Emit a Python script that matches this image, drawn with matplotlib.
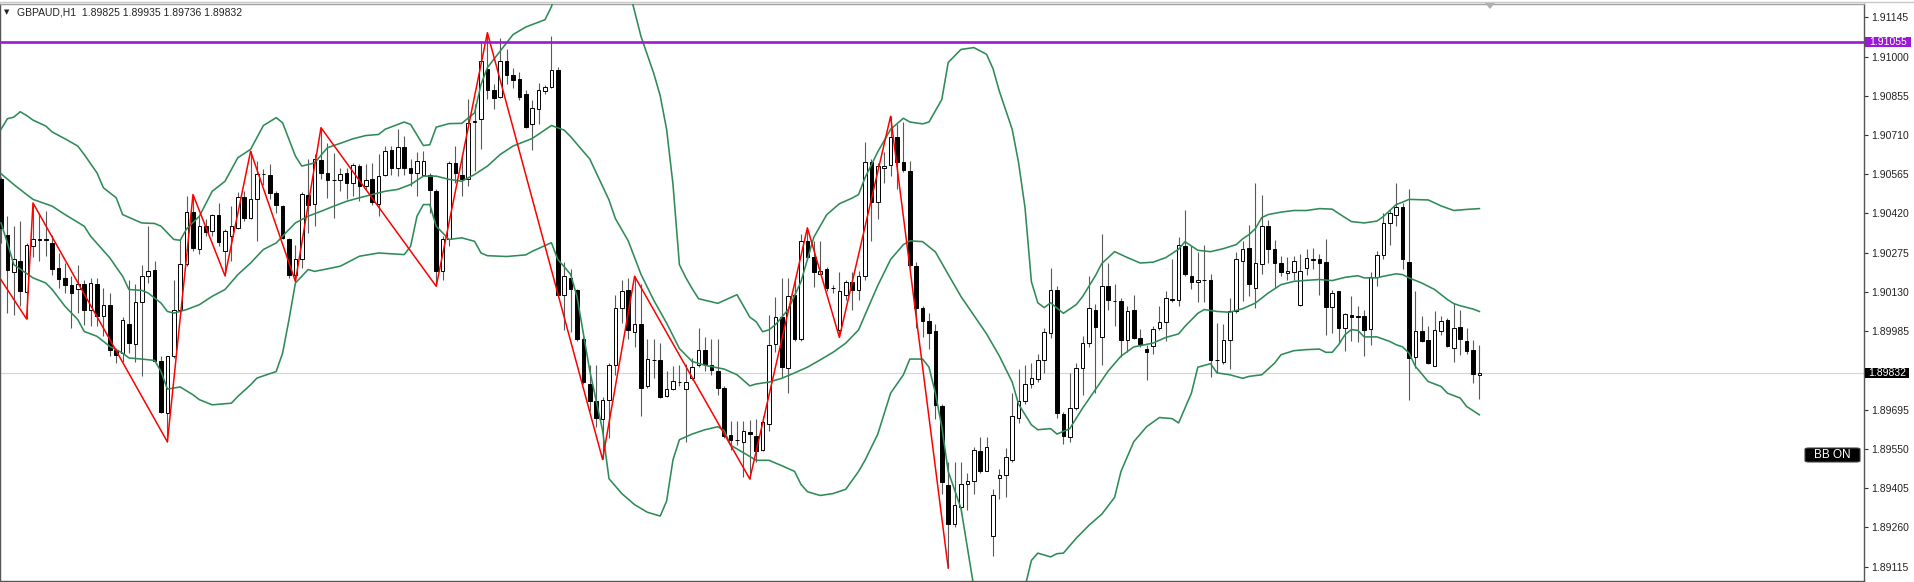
import numpy as np
import matplotlib
matplotlib.use("Agg")
import matplotlib.pyplot as plt
from matplotlib.patches import Rectangle, FancyBboxPatch, Polygon

plt.rcParams["font.family"] = ["Liberation Sans", "DejaVu Sans"]

# ---------------- data (GBPAUD H1) ----------------
opens = [1.90546,1.90339,1.90203,1.90243,1.90129,1.90301,1.90322,1.90324,1.90312,1.90220,
1.90183,1.90157,1.90142,1.90161,1.90065,1.90161,1.90042,1.90083,1.89914,1.89904,
1.90013,1.89939,1.90092,1.90188,1.90210,1.89876,1.89682,1.89892,1.90065,1.90235,
1.90425,1.90287,1.90373,1.90354,1.90413,1.90280,1.90336,1.90367,1.90482,1.90404,
1.90474,1.90566,1.90561,1.90494,1.90447,1.90326,1.90194,1.90252,1.90490,1.90456,
1.90616,1.90570,1.90543,1.90543,1.90568,1.90531,1.90595,1.90523,1.90546,1.90456,
1.90561,1.90654,1.90589,1.90665,1.90589,1.90568,1.90564,1.90564,1.90502,1.90206,
1.90326,1.90607,1.90564,1.90546,1.90759,1.90768,1.90955,1.90875,1.90852,1.90985,
1.90930,1.90916,1.90861,1.90751,1.90806,1.90871,1.90889,1.90951,1.90120,1.90181,
1.90137,1.89955,1.89790,1.89726,1.89662,1.89731,1.89859,1.90072,1.90137,1.89982,
1.90010,1.89783,1.89880,1.89880,1.89745,1.89770,1.89798,1.89770,1.89811,1.89859,
1.89914,1.89859,1.89838,1.89776,1.89602,1.89583,1.89574,1.89613,1.89598,1.89547,
1.89643,1.89937,1.90037,1.89849,1.90120,1.89955,1.90319,1.90261,1.90198,1.90216,
1.90144,1.89989,1.90120,1.90165,1.90137,1.90188,1.90610,1.90463,1.90587,1.90600,
1.90704,1.90610,1.90577,1.90226,1.90072,1.90023,1.89985,1.89707,1.89415,1.89272,
1.89337,1.89419,1.89433,1.89543,1.89470,1.89227,1.89444,1.89454,1.89508,1.89666,
1.89726,1.89790,1.89808,1.89877,1.89978,1.90137,1.89680,1.89594,1.89703,1.89849,
1.89941,1.90065,1.89962,1.90151,1.90097,1.90096,1.89951,1.90065,1.89959,1.89921,
1.89931,1.89996,1.90019,1.90103,1.90102,1.90298,1.90188,1.90165,1.90174,1.90175,
1.89879,1.89873,1.89951,1.90058,1.90243,1.90293,1.90145,1.90235,1.90375,1.90289,
1.90237,1.90200,1.90203,1.90083,1.90219,1.90249,1.90250,1.90240,1.90075,1.90132,
1.89997,1.90046,1.90043,1.90040,1.89994,1.90186,1.90268,1.90385,1.90416,1.90445,
1.90240,1.89890,1.89987,1.89951,1.89857,1.89984,1.90025,1.89923,1.90000,1.89947,
1.89917,1.89825]

highs = [1.90553,1.90410,1.90373,1.90391,1.90311,1.90459,1.90423,1.90428,1.90342,1.90275,
1.90238,1.90188,1.90231,1.90176,1.90182,1.90182,1.90145,1.90126,1.89923,1.90038,
1.90176,1.90161,1.90231,1.90373,1.90243,1.89892,1.89894,1.90176,1.90324,1.90485,
1.90490,1.90410,1.90398,1.90419,1.90459,1.90361,1.90447,1.90500,1.90502,1.90650,
1.90613,1.90583,1.90601,1.90502,1.90453,1.90330,1.90305,1.90499,1.90622,1.90638,
1.90737,1.90681,1.90644,1.90589,1.90589,1.90607,1.90601,1.90601,1.90607,1.90638,
1.90669,1.90669,1.90731,1.90706,1.90620,1.90648,1.90650,1.90570,1.90509,1.90336,
1.90613,1.90669,1.90644,1.90842,1.90823,1.91057,1.91088,1.90897,1.91067,1.91026,
1.90957,1.90944,1.90875,1.90841,1.90903,1.90893,1.91074,1.90960,1.90239,1.90216,
1.90140,1.89965,1.89859,1.89859,1.89742,1.89868,1.90120,1.90174,1.90181,1.90188,
1.90161,1.89955,1.89955,1.89941,1.89838,1.89855,1.89859,1.89865,1.89886,1.89996,
1.89962,1.89955,1.89955,1.89783,1.89652,1.89652,1.89652,1.89657,1.89659,1.89673,
1.90044,1.90113,1.90181,1.90181,1.90181,1.90346,1.90367,1.90319,1.90319,1.90223,
1.90154,1.90202,1.90175,1.90202,1.90209,1.90683,1.90621,1.90607,1.90648,1.90779,
1.90751,1.90758,1.90614,1.90239,1.90079,1.90051,1.90010,1.89715,1.89502,1.89502,
1.89502,1.89460,1.89557,1.89594,1.89594,1.89402,1.89474,1.89552,1.89756,1.89845,
1.89859,1.89868,1.89900,1.89996,1.90220,1.90151,1.89687,1.89831,1.89868,1.89968,
1.90188,1.90085,1.90346,1.90237,1.90161,1.90106,1.90079,1.90120,1.89992,1.89934,
1.90006,1.90079,1.90133,1.90250,1.90332,1.90432,1.90298,1.90278,1.90305,1.90198,
1.90016,1.90010,1.90106,1.90278,1.90317,1.90379,1.90533,1.90490,1.90395,1.90321,
1.90264,1.90260,1.90264,1.90272,1.90287,1.90293,1.90272,1.90324,1.90139,1.90132,
1.90052,1.90114,1.90079,1.90065,1.90203,1.90280,1.90420,1.90432,1.90533,1.90459,
1.90509,1.90132,1.90040,1.90003,1.90058,1.90042,1.90034,1.90089,1.90062,1.89997,
1.89954,1.89935]

lows = [1.90312,1.90052,1.90046,1.90077,1.90030,1.90261,1.90243,1.90262,1.90194,1.90145,
1.90127,1.89997,1.90052,1.90009,1.90003,1.90003,1.89966,1.89892,1.89867,1.89873,
1.89904,1.89873,1.89820,1.90163,1.89873,1.89682,1.89576,1.89887,1.90046,1.90225,
1.90280,1.90272,1.90336,1.90336,1.90299,1.90190,1.90243,1.90361,1.90391,1.90398,
1.90317,1.90527,1.90472,1.90423,1.90324,1.90183,1.90169,1.90219,1.90348,1.90373,
1.90546,1.90478,1.90404,1.90502,1.90472,1.90484,1.90465,1.90509,1.90453,1.90410,
1.90558,1.90564,1.90558,1.90564,1.90521,1.90484,1.90558,1.90422,1.90151,1.90176,
1.90299,1.90534,1.90484,1.90521,1.90576,1.90657,1.90842,1.90805,1.90847,1.90899,
1.90885,1.90841,1.90734,1.90655,1.90751,1.90860,1.90882,1.90115,1.89989,1.89982,
1.89948,1.89790,1.89690,1.89632,1.89511,1.89591,1.89824,1.90017,1.89955,1.89927,
1.89673,1.89776,1.89811,1.89740,1.89743,1.89767,1.89783,1.89577,1.89804,1.89852,
1.89838,1.89824,1.89749,1.89591,1.89547,1.89565,1.89448,1.89439,1.89502,1.89543,
1.89618,1.89907,1.89817,1.89756,1.89948,1.89948,1.90250,1.90147,1.90195,1.90133,
1.90127,1.89962,1.90099,1.90065,1.90099,1.90175,1.90319,1.90401,1.90532,1.90559,
1.90511,1.90575,1.90223,1.89996,1.89962,1.89921,1.89659,1.89385,1.89110,1.89261,
1.89309,1.89323,1.89385,1.89460,1.89467,1.89154,1.89364,1.89371,1.89502,1.89646,
1.89715,1.89776,1.89797,1.89831,1.89959,1.89666,1.89570,1.89577,1.89694,1.89749,
1.89927,1.89756,1.89859,1.90065,1.90003,1.89890,1.89907,1.89955,1.89927,1.89804,
1.89900,1.89989,1.89948,1.90092,1.90079,1.90188,1.90140,1.90092,1.90092,1.89817,
1.89831,1.89865,1.89845,1.90051,1.90095,1.90114,1.90071,1.90198,1.90237,1.90145,
1.90188,1.90173,1.90173,1.90077,1.90194,1.90213,1.90120,1.89972,1.89978,1.89941,
1.89910,1.89947,1.89944,1.89892,1.89935,1.90151,1.90250,1.90305,1.90373,1.90213,
1.89732,1.89849,1.89944,1.89865,1.89855,1.89972,1.89927,1.89873,1.89898,1.89902,
1.89793,1.89736]

closes = [1.90368,1.90210,1.90250,1.90132,1.90305,1.90327,1.90324,1.90322,1.90213,1.90179,
1.90157,1.90126,1.90161,1.90065,1.90163,1.90042,1.90083,1.89917,1.89898,1.90025,
1.89941,1.90092,1.90190,1.90209,1.89876,1.89688,1.89892,1.90065,1.90235,1.90425,
1.90293,1.90373,1.90351,1.90413,1.90314,1.90354,1.90373,1.90482,1.90404,1.90475,
1.90567,1.90567,1.90494,1.90453,1.90330,1.90194,1.90250,1.90493,1.90453,1.90620,
1.90568,1.90542,1.90542,1.90567,1.90531,1.90598,1.90521,1.90543,1.90462,1.90558,
1.90650,1.90589,1.90667,1.90589,1.90568,1.90613,1.90613,1.90506,1.90206,1.90324,
1.90605,1.90568,1.90546,1.90755,1.90761,1.90983,1.90876,1.90848,1.90985,1.90930,
1.90912,1.90852,1.90738,1.90810,1.90875,1.90889,1.90951,1.90120,1.90188,1.90140,
1.89955,1.89797,1.89728,1.89666,1.89731,1.89859,1.90069,1.90133,1.89989,1.90010,
1.89776,1.89882,1.89879,1.89742,1.89770,1.89800,1.89797,1.89797,1.89852,1.89914,
1.89865,1.89841,1.89776,1.89598,1.89584,1.89582,1.89617,1.89604,1.89543,1.89649,
1.89934,1.90037,1.89852,1.90116,1.89955,1.90319,1.90261,1.90202,1.90209,1.90143,
1.90143,1.90133,1.90165,1.90137,1.90188,1.90610,1.90463,1.90594,1.90596,1.90704,
1.90610,1.90580,1.90230,1.90072,1.90023,1.89978,1.89712,1.89429,1.89272,1.89341,
1.89419,1.89433,1.89547,1.89470,1.89557,1.89378,1.89454,1.89520,1.89673,1.89728,
1.89790,1.89811,1.89877,1.89982,1.90137,1.89684,1.89598,1.89703,1.89849,1.89941,
1.90069,1.90000,1.90151,1.90099,1.90096,1.89951,1.90060,1.89959,1.89937,1.89907,
1.89992,1.90019,1.90106,1.90102,1.90302,1.90198,1.90165,1.90175,1.90175,1.89877,
1.89880,1.89951,1.90060,1.90250,1.90290,1.90161,1.90237,1.90373,1.90289,1.90237,
1.90203,1.90206,1.90243,1.90206,1.90256,1.90250,1.90237,1.90075,1.90126,1.89997,
1.90049,1.90038,1.90038,1.89991,1.90186,1.90268,1.90385,1.90420,1.90445,1.90250,
1.89886,1.89984,1.89947,1.89867,1.89991,1.90021,1.89929,1.89997,1.89956,1.89910,
1.89828,1.89832]

nan = float("nan")
# Bollinger bands (bar index, price); nan = off-screen gap
upper_idx = [0,1,2,3,4,5,7,8,10,12,13,15,16,18,19,21,22,24,25,27,28,29,31,33,35,37,39,41,43,44,
46,47,49,51,53,55,57,59,60,62,63,64,66,67,68,70,72,74,75,76,80,82,85,86,87,92,98,100,102,103,
104,105,106,107,108,109,112,115,117,118,119,120,121,123,125,127,129,131,133,134,135,137,139,141,142,144,145,147,148,150,
152,154,155,156,158,159,160,161,162,163,164,166,168,169,171,172,174,176,178,180,182,184,185,187,189,191,193,194,195,196,
197,198,200,202,204,206,208,209,211,213,215,216,217,218,219,220,223,225,227,229,231]
upper_val = [1.90731,1.90770,1.90776,1.90796,1.90782,1.90765,1.90743,1.90721,1.90696,1.90669,1.90638,1.90570,1.90515,1.90478,1.90416,1.90395,1.90385,1.90383,1.90373,1.90324,1.90321,1.90363,1.90410,1.90502,1.90539,1.90626,1.90657,1.90745,1.90774,1.90755,
1.90632,1.90595,1.90607,1.90663,1.90679,1.90696,1.90708,1.90712,1.90731,1.90749,1.90758,1.90749,1.90671,1.90674,1.90739,1.90752,1.90753,1.90792,1.90897,1.90959,1.91081,1.91109,1.91136,1.91184,1.91260,nan,1.91260,1.91074,1.90937,1.90855,
1.90731,1.90527,1.90231,1.90183,1.90142,1.90105,1.90088,1.90120,1.90037,1.90020,1.89983,1.89990,1.90009,1.90065,1.90168,1.90332,1.90415,1.90456,1.90477,1.90490,1.90552,1.90648,1.90731,1.90772,1.90758,1.90751,1.90758,1.90841,1.90978,1.91026,
1.91033,1.91008,1.90955,1.90871,1.90731,1.90607,1.90442,1.90168,1.90090,1.90072,1.90090,1.90051,1.90083,1.90113,1.90190,1.90235,1.90279,1.90257,1.90237,1.90240,1.90257,1.90288,1.90316,1.90284,1.90279,1.90290,1.90305,1.90326,1.90342,1.90364,
1.90405,1.90416,1.90425,1.90431,1.90431,1.90438,1.90436,1.90420,1.90390,1.90385,1.90392,1.90409,1.90431,1.90453,1.90462,1.90472,1.90470,1.90448,1.90431,1.90435,1.90438]

middle_idx = [0,2,4,5,8,10,13,14,17,19,20,22,23,25,26,27,29,31,33,35,37,39,41,43,45,46,48,50,52,54,
56,58,60,62,64,66,68,70,72,74,76,78,80,83,86,88,89,92,95,96,98,100,102,104,106,108,110,113,115,117,
118,120,122,124,126,128,130,132,134,135,137,139,141,142,144,146,148,150,152,154,156,158,159,161,162,164,165,167,169,171,
173,175,177,180,182,184,185,187,188,190,192,194,196,198,200,202,204,206,208,210,212,213,215,216,218,219,220,222,224,226,
227,228,230,231]
middle_val = [1.90567,1.90527,1.90490,1.90472,1.90447,1.90416,1.90373,1.90336,1.90256,1.90188,1.90139,1.90136,1.90126,1.90089,1.90058,1.90052,1.90065,1.90083,1.90114,1.90139,1.90194,1.90237,1.90287,1.90311,1.90361,1.90385,1.90410,1.90428,1.90447,1.90465,
1.90478,1.90490,1.90502,1.90509,1.90527,1.90558,1.90558,1.90546,1.90539,1.90564,1.90595,1.90638,1.90669,1.90697,1.90745,1.90728,1.90704,1.90621,1.90470,1.90401,1.90319,1.90195,1.90099,1.90015,1.89921,1.89873,1.89859,1.89845,1.89824,1.89783,
1.89790,1.89797,1.89811,1.89831,1.89852,1.89879,1.89907,1.89941,1.89990,1.90045,1.90154,1.90250,1.90305,1.90319,1.90316,1.90278,1.90195,1.90113,1.90044,1.89975,1.89893,1.89797,1.89715,1.89639,1.89621,1.89625,1.89605,1.89625,1.89701,1.89769,
1.89838,1.89893,1.89927,1.89941,1.89962,1.89975,1.90003,1.90051,1.90065,1.90058,1.90055,1.90068,1.90089,1.90126,1.90157,1.90169,1.90173,1.90176,1.90172,1.90184,1.90190,1.90182,1.90182,1.90188,1.90197,1.90194,1.90182,1.90163,1.90139,1.90102,
1.90087,1.90079,1.90067,1.90058]

lower_idx = [0,1,2,5,7,8,10,12,13,15,17,19,20,22,24,25,26,28,30,31,33,36,37,39,40,43,44,45,46,48,
49,53,56,59,63,64,65,66,67,68,70,72,74,75,76,79,82,83,86,87,88,89,90,91,92,94,95,97,99,101,
103,104,105,106,108,110,112,113,114,116,118,120,122,124,125,126,128,130,132,134,135,137,139,141,142,144,145,146,147,148,
150,152,156,160,161,162,164,165,166,168,170,172,174,175,177,179,181,183,184,186,187,189,190,192,194,195,197,199,200,202,
204,206,207,208,209,210,211,212,213,215,217,218,219,220,221,223,225,226,228,229,231]
lower_val = [1.90385,1.90311,1.90231,1.90182,1.90163,1.90139,1.90077,1.90028,1.89984,1.89966,1.89929,1.89904,1.89886,1.89882,1.89877,1.89836,1.89771,1.89779,1.89750,1.89732,1.89713,1.89719,1.89744,1.89787,1.89812,1.89836,1.89904,1.90028,1.90163,1.90213,
1.90206,1.90225,1.90262,1.90274,1.90268,1.90299,1.90410,1.90453,1.90453,1.90373,1.90324,1.90330,1.90317,1.90274,1.90264,1.90261,1.90267,1.90280,1.90312,1.90250,1.90223,1.90195,1.90113,1.89975,1.89838,1.89618,1.89440,1.89385,1.89344,1.89316,
1.89302,1.89357,1.89510,1.89584,1.89605,1.89621,1.89632,1.89618,1.89564,1.89536,1.89508,1.89508,1.89488,1.89467,1.89419,1.89392,1.89378,1.89385,1.89401,1.89467,1.89508,1.89605,1.89756,1.89824,1.89882,1.89882,1.89852,1.89756,1.89632,1.89467,
1.89330,1.89040,nan,1.89040,1.89138,1.89165,1.89151,1.89163,1.89165,1.89220,1.89268,1.89309,1.89371,1.89467,1.89577,1.89632,1.89666,1.89662,1.89646,1.89756,1.89852,1.89865,1.89831,1.89824,1.89811,1.89818,1.89824,1.89867,1.89898,1.89913,
1.89917,1.89919,1.89907,1.89907,1.89935,1.89972,1.89991,1.89988,1.89964,1.89964,1.89947,1.89935,1.89927,1.89904,1.89855,1.89799,1.89781,1.89756,1.89738,1.89707,1.89676]

# ZigZag vertices (bar index, price)
zz_idx = [0, 4, 5, 26, 30, 35, 39, 46, 50, 68, 76, 94, 99, 117, 126, 131, 139, 148]
zz_val = [1.90175, 1.90030, 1.90459, 1.89576, 1.90490, 1.90190, 1.90650, 1.90169, 1.90737,
          1.90151, 1.91088, 1.89511, 1.90188, 1.89439, 1.90367, 1.89962, 1.90779, 1.89110]

symbol = "GBPAUD,H1"
level_price = 1.91055
last_price = 1.89832
ytick_vals = [1.91145, 1.91000, 1.90855, 1.90710, 1.90565, 1.90420, 1.90275, 1.90130,
              1.89985, 1.89695, 1.89550, 1.89405, 1.89260, 1.89115]

# ---------------- figure ----------------
W, H = 1915, 582
fig = plt.figure(figsize=(W / 100, H / 100), dpi=100)
fig.patch.set_facecolor("white")
ax_left, ax_right_px, ax_top_px, ax_bot_px = 0, 1864, 4, 581
ax = fig.add_axes([ax_left / W, (H - ax_bot_px) / H, (ax_right_px - ax_left) / W,
                   (ax_bot_px - ax_top_px) / H])
ax.set_facecolor("white")

n = len(opens)
x = np.arange(n)
o = np.array(opens); h = np.array(highs); l = np.array(lows); c = np.array(closes)

# wicks
ax.vlines(x, l, h, color="#5a5a5a", linewidth=0.8, zorder=2)
# bodies
up = c >= o
body_w = 0.58
bot = np.minimum(o, c)
hgt = np.abs(c - o)
ax.bar(x[up], hgt[up], bottom=bot[up], width=body_w, color="white",
       edgecolor="black", linewidth=0.7, zorder=3)
ax.bar(x[~up], hgt[~up], bottom=bot[~up], width=body_w, color="black",
       edgecolor="black", linewidth=0.7, zorder=3)

# bands
band_col = "#2e8b57"
for bi, bv in ((upper_idx, upper_val), (middle_idx, middle_val), (lower_idx, lower_val)):
    ax.plot(bi, bv, color=band_col, linewidth=1.15, zorder=4, solid_joinstyle="round")

# zigzag
ax.plot(zz_idx, zz_val, color="#ff0000", linewidth=1.1, zorder=5)

# horizontal lines
ax.axhline(level_price, color="#9b19d6", linewidth=1.9, zorder=6)
ax.axhline(last_price, color="#d4d4d4", linewidth=0.8, zorder=1)

px_per_bar = 6.40
x0 = -1 / px_per_bar
ax.set_xlim(x0, x0 + (ax_right_px - ax_left) / px_per_bar)
ax.set_ylim(1.89062, 1.91194)

ax.set_xticks([])
ax.yaxis.tick_right()
ax.set_yticks(ytick_vals)
ax.set_yticklabels([f"{v:.5f}" for v in ytick_vals])
ax.tick_params(axis="y", direction="out", length=3, width=0.8, color="#333333",
               pad=2, labelsize=7.5, labelcolor="#222222")
for s in ("left", "right", "bottom"):
    ax.spines[s].set_color("#555555")
    ax.spines[s].set_linewidth(1.0)
ax.spines["top"].set_color("#a0a0a0")
ax.spines["top"].set_linewidth(1.0)

# top window border
fig.add_artist(plt.Line2D([0, 1], [1 - 1.5 / H, 1 - 1.5 / H], color="#c8c8c8", linewidth=1.0))

def fig_rect(x1, y1, x2, y2, **kw):
    r = Rectangle((x1 / W, 1 - y2 / H), (x2 - x1) / W, (y2 - y1) / H,
                  transform=fig.transFigure, **kw)
    fig.add_artist(r)

def y_px(p):
    ylo, yhi = 1.89062, 1.91194
    return ax_top_px + (yhi - p) / (yhi - ylo) * (ax_bot_px - ax_top_px)

# price boxes on the axis
yy = y_px(level_price)
fig_rect(1865, yy - 5, 1911, yy + 5.5, facecolor="#9b19d6", edgecolor="none", zorder=10)
fig.text(1888 / W, 1 - yy / H, f"{level_price:.5f}", color="white", fontsize=7.5,
         ha="center", va="center", zorder=11)
yy = y_px(last_price)
fig_rect(1865, yy - 5, 1909, yy + 5.5, facecolor="black", edgecolor="none", zorder=10)
fig.text(1887 / W, 1 - yy / H, f"{last_price:.5f}", color="white", fontsize=7.5,
         ha="center", va="center", zorder=11)

# BB ON label
bb = FancyBboxPatch((1805 / W, 1 - 462 / H), 55 / W, 14 / H,
                    boxstyle="round,pad=0,rounding_size=0.002",
                    transform=fig.transFigure, facecolor="black", edgecolor="#444444",
                    linewidth=0.8, zorder=10)
fig.add_artist(bb)
fig.text(1832 / W, 1 - 455 / H, "BB ON", color="white", fontsize=8.5,
         ha="center", va="center", zorder=11)

# header
fig.text(4 / W, 1 - 12.5 / H, "\u25BC", fontsize=5, color="#222222", va="center", ha="left",
         family="DejaVu Sans")
fig.text(17 / W, 1 - 12.5 / H,
         f"{symbol}  {opens[-1]:.5f} {highs[-1]:.5f} {lows[-1]:.5f} {closes[-1]:.5f}",
         fontsize=7.5, color="#222222", va="center", ha="left")

# chart shift marker
tri = Polygon([[1485 / W, 1 - 3 / H], [1495 / W, 1 - 3 / H], [1490 / W, 1 - 9 / H]],
              closed=True, transform=fig.transFigure, facecolor="#b0b0b0",
              edgecolor="none", zorder=10)
fig.add_artist(tri)

fig.savefig("out.png", dpi=100)
